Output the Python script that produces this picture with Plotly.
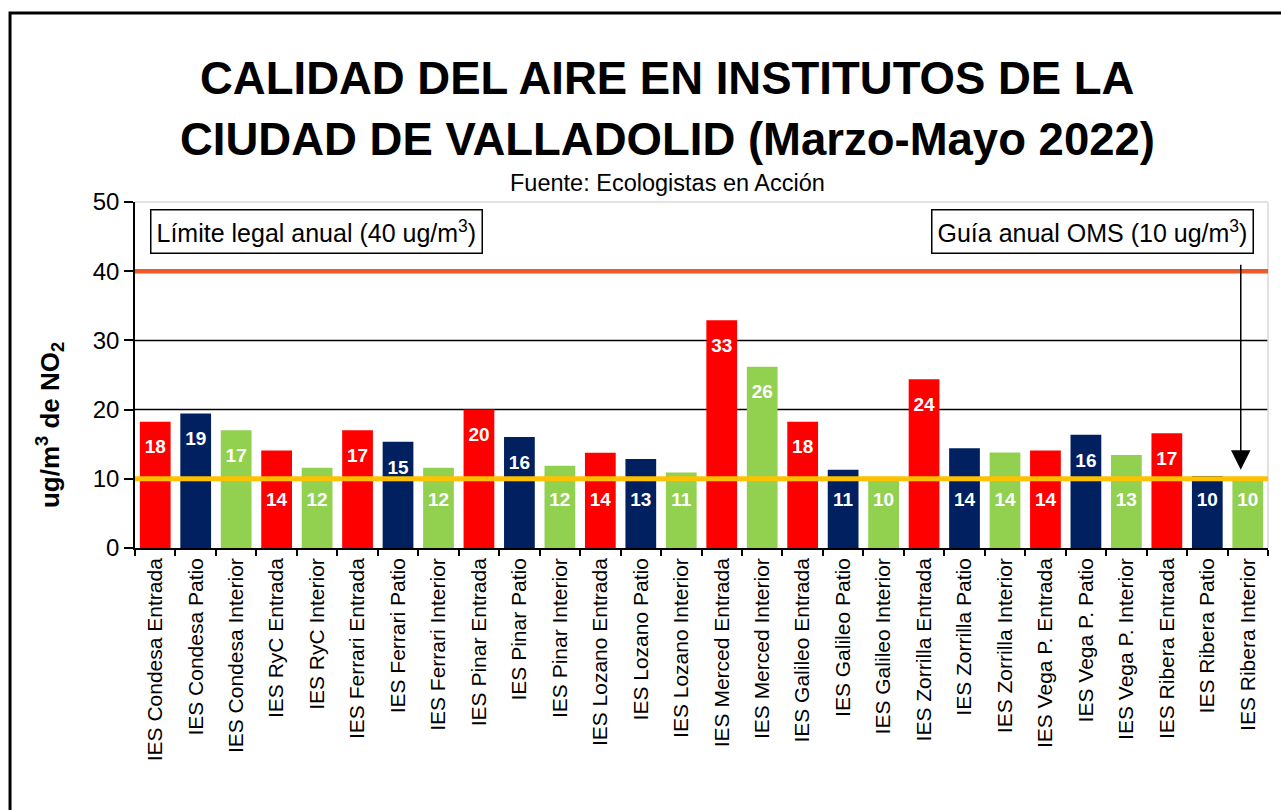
import plotly.graph_objects as go

# ---------------- data ----------------
categories = [
    "IES Condesa Entrada", "IES Condesa Patio", "IES Condesa Interior",
    "IES RyC Entrada", "IES RyC Interior",
    "IES Ferrari Entrada", "IES Ferrari Patio", "IES Ferrari Interior",
    "IES Pinar Entrada", "IES Pinar Patio", "IES Pinar Interior",
    "IES Lozano Entrada", "IES Lozano Patio", "IES Lozano Interior",
    "IES Merced Entrada", "IES Merced Interior",
    "IES Galileo Entrada", "IES Galileo Patio", "IES Galileo Interior",
    "IES Zorrilla Entrada", "IES Zorrilla Patio", "IES Zorrilla Interior",
    "IES Vega P. Entrada", "IES Vega P. Patio", "IES Vega P. Interior",
    "IES Ribera Entrada", "IES Ribera Patio", "IES Ribera Interior",
]
values = [
    18.25, 19.45, 17.0,
    14.1, 11.6,
    17.0, 15.35, 11.6,
    20.0, 16.05, 11.9,
    13.75, 12.85, 10.9,
    32.9, 26.2,
    18.25, 11.3, 10.2,
    24.4, 14.4, 13.8,
    14.1, 16.35, 13.45,
    16.6, 10.4, 9.9,
]
limite_legal = 40
guia_oms = 10
grid_values = [20, 30]
y_ticks = [0, 10, 20, 30, 40, 50]

type_colors = {"Entrada": "#FF0000", "Patio": "#002060", "Interior": "#92D050"}

# ---------------- styling ----------------
REG = "Liberation Sans, Arial, sans-serif"

colors = [type_colors[c.split()[-1]] for c in categories]
labels = [str(int(round(v))) for v in values]
label_y = [v - 3.9 if v >= 15 else 6.8 for v in values]

fig = go.Figure()
fig.add_bar(
    x=categories, y=values, marker=dict(color=colors, line=dict(width=0)),
    width=0.76, hoverinfo="skip", showlegend=False,
)
fig.add_scatter(
    x=categories, y=label_y, mode="text", text=labels,
    textfont=dict(family=REG, size=19, color="white", weight="bold"),
    hoverinfo="skip", showlegend=False,
)

shapes = []
for g in grid_values:
    shapes.append(dict(type="line", xref="paper", yref="y", x0=0, x1=1, y0=g, y1=g,
                       line=dict(color="black", width=1.5), layer="below"))
# light plot border (top and right)
shapes.append(dict(type="line", xref="paper", yref="paper", x0=0, x1=1, y0=1, y1=1,
                   line=dict(color="#D9D9D9", width=1.5), layer="below"))
shapes.append(dict(type="line", xref="paper", yref="paper", x0=1, x1=1, y0=0, y1=1,
                   line=dict(color="#D9D9D9", width=1.5), layer="below"))
# reference lines
shapes.append(dict(type="line", xref="paper", yref="y", x0=0, x1=1, y0=limite_legal, y1=limite_legal,
                   line=dict(color="#EB5A28", width=4.5), layer="above"))
shapes.append(dict(type="line", xref="paper", yref="y", x0=0, x1=1, y0=guia_oms, y1=guia_oms,
                   line=dict(color="#FFC000", width=5), layer="above"))
# outer frame
shapes.append(dict(type="rect", xref="paper", yref="paper", x0=-0.1103, x1=1.02, y0=-0.78, y1=1.546,
                   line=dict(color="black", width=3), layer="above"))

annotations = [
    dict(text="<b>CALIDAD DEL AIRE EN INSTITUTOS DE LA</b>", xref="paper", yref="paper",
         x=0.4696, y=1.3555, xanchor="center", yanchor="middle", showarrow=False,
         font=dict(family=REG, size=45.5, color="black")),
    dict(text="<b>CIUDAD DE VALLADOLID (Marzo-Mayo 2022)</b>", xref="paper", yref="paper",
         x=0.4696, y=1.182, xanchor="center", yanchor="middle", showarrow=False,
         font=dict(family=REG, size=45.5, color="black")),
    dict(text="Fuente: Ecologistas en Acción", xref="paper", yref="paper",
         x=0.4696, y=1.055, xanchor="center", yanchor="middle", showarrow=False,
         font=dict(family=REG, size=23.5, color="black")),
    dict(text="<b>ug/m<sup>3</sup> de NO<sub>2</sub></b>", xref="paper", yref="paper",
         x=-0.075, y=0.3555, xanchor="center", yanchor="middle", textangle=-90, showarrow=False,
         font=dict(family=REG, size=26, color="black")),
    dict(text="Límite legal anual (40 ug/m<sup>3</sup>)", xref="paper", yref="paper",
         x=0.0132, y=0.916, xanchor="left", yanchor="middle", showarrow=False,
         bordercolor="black", borderwidth=1.5, borderpad=5, bgcolor="white",
         font=dict(family=REG, size=25, color="black")),
    dict(text="Guía anual OMS (10 ug/m<sup>3</sup>)", xref="paper", yref="paper",
         x=0.9876, y=0.916, xanchor="right", yanchor="middle", showarrow=False,
         bordercolor="black", borderwidth=1.5, borderpad=5, bgcolor="white",
         font=dict(family=REG, size=25, color="black")),
    dict(text=" ", x=categories[-1], y=11.3, xref="x", yref="y", xshift=-7,
         showarrow=True, ax=0, ay=-208, arrowhead=2, arrowsize=2.6, arrowwidth=1.5,
         arrowcolor="black", standoff=0, font=dict(size=2)),
]

fig.update_layout(
    width=1281, height=810,
    margin=dict(l=135, r=13, t=202, b=262),
    paper_bgcolor="white", plot_bgcolor="white",
    bargap=0.24,
    shapes=shapes, annotations=annotations,
    xaxis=dict(
        type="category", range=[-0.5, len(categories) - 0.5],
        tickangle=-90, tickson="boundaries", ticks="outside", ticklen=6, tickwidth=1.5,
        tickcolor="black", showline=True, linecolor="black", linewidth=1.5,
        showgrid=False, zeroline=False,
        tickfont=dict(family=REG, size=21, color="black"),
    ),
    yaxis=dict(
        range=[0, 50], tickvals=y_ticks, ticks="outside", ticklen=9, tickwidth=1.5,
        tickcolor="black", showline=True, linecolor="black", linewidth=1.5,
        showgrid=False, zeroline=False,
        tickfont=dict(family=REG, size=24, color="black"),
    ),
)

fig.write_html("out.html")
